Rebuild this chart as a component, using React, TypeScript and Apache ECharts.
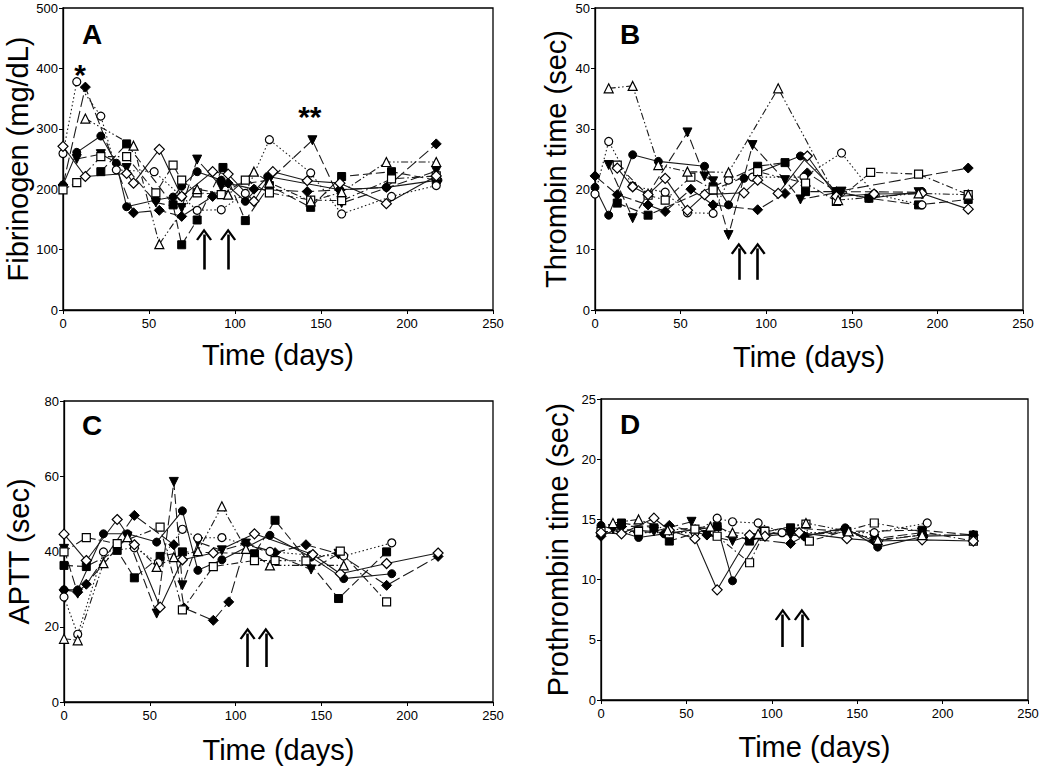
import React, { useEffect, useRef } from "react";
import * as echarts from "echarts";

// ---------- Panel A: Fibrinogen (mg/dL) ----------
const A_fCircle = [[0,207],[8,261],[22,288],[31,243],[37,171],[54,182],[64,187],[69,205],[78,229],[92,215],[106,180],[119,221],[161,199],[188,203],[218,215]];
const A_fSquare = [[22,229],[37,275],[64,174],[69,108],[78,149],[93,236],[106,148],[120,206],[144,170],[162,221],[191,229],[217,215]];
const A_fDiamond = [[0,207],[13,369],[41,161],[56,165],[69,155],[87,188],[96,210],[111,200],[142,196],[161,199],[188,203],[217,275]];
const A_fTri = [[8,250],[22,258],[37,235],[54,178],[69,169],[78,249],[92,204],[120,215],[145,281],[162,177],[217,230]];
const A_oCircle = [[0,259],[8,378],[22,321],[31,232],[53,229],[69,188],[78,165],[92,166],[106,193],[120,282],[144,227],[162,159],[191,188],[217,206]];
const A_oSquare = [[0,199],[8,211],[22,254],[37,254],[54,194],[64,240],[69,215],[78,194],[92,191],[106,215],[120,194],[144,182],[162,181],[191,217],[217,222]];
const A_oDiamond = [[0,271],[13,221],[37,226],[41,210],[56,266],[69,188],[87,229],[96,225],[111,180],[122,229],[142,214],[161,210],[188,176],[217,222]];
const A_oTri = [[13,317],[41,272],[56,109],[78,200],[96,191],[111,229],[120,211],[144,180],[162,195],[188,245],[217,245]];

// ---------- Panel B: Thrombin time (sec) ----------
const B_fCircle = [[0,20.3],[8,15.7],[22,25.7],[37,24.6],[64,23.8],[78,17.4],[87,21.8],[120,25.5],[141,19.6],[160,18.5],[191,19.6]];
const B_fSquare = [[13,17.7],[31,15.7],[69,20.4],[95,23.8],[111,24.4],[123,19.6],[141,19.6],[160,18.5],[189,17.4],[218,18.3]];
const B_fDiamond = [[0,22.2],[13,19.1],[31,17.4],[41,16.3],[56,20.0],[69,17.4],[95,16.6],[111,19.3],[124,22.7],[141,19.6],[218,23.5]];
const B_fTri = [[8,24.0],[22,15.2],[54,29.4],[64,22.1],[69,21.3],[78,12.4],[92,27.3],[111,21.5],[120,18.3],[144,19.6],[189,19.5]];
const B_oCircle = [[0,19.2],[8,27.9],[22,20.5],[41,19.5],[54,16.1],[69,16.0],[78,21.5],[92,22.0],[122,22.0],[144,26.0],[163,19.2],[191,17.4]];
const B_oSquare = [[13,24.0],[31,19.0],[41,18.2],[56,22.0],[69,19.9],[95,22.9],[123,21.0],[141,18.0],[161,22.8],[189,22.5],[218,19.1]];
const B_oDiamond = [[13,23.5],[22,20.4],[31,19.1],[41,21.8],[54,16.5],[64,19.1],[87,19.4],[95,21.5],[107,19.3],[124,25.5],[141,18.8],[163,19.2],[191,19.3],[218,16.7]];
const B_oTri = [[8,36.7],[22,37.1],[37,24.0],[54,22.9],[78,22.8],[107,36.7],[142,18.2],[189,19.3],[218,19.1]];

// ---------- Panel C: APTT (sec) ----------
const C_fCircle = [[0,29.8],[8,29.8],[23,44.7],[37,44.7],[54,42.5],[69,50.8],[78,35.0],[92,37.8],[120,44.3],[144,38.5],[163,32.8],[191,34.1]];
const C_fSquare = [[0,36.3],[13,36.0],[31,40.3],[41,33.0],[56,38.7],[69,39.9],[111,39.4],[123,48.3],[160,27.5],[188,39.9]];
const C_fDiamond = [[0,29.8],[8,29.2],[13,31.3],[41,49.6],[64,41.8],[70,25.0],[87,21.7],[96,26.6],[106,42.1],[123,39.7],[141,41.8],[160,39.4],[188,31.0],[218,38.7]];
const C_fTri = [[0,40.7],[8,28.8],[37,44.0],[54,23.5],[64,58.5],[69,31.0],[78,42.5],[92,40.3],[106,42.1],[144,35.2],[160,39.4]];
const C_oCircle = [[0,27.9],[8,18.0],[23,39.9],[41,41.0],[55,37.0],[69,45.9],[78,43.6],[92,43.7],[120,40.0],[144,39.0],[163,38.8],[191,42.3]];
const C_oSquare = [[0,39.9],[13,43.7],[31,42.1],[56,46.5],[69,24.5],[87,36.0],[111,37.6],[123,37.6],[141,37.5],[161,40.1],[188,26.6]];
const C_oDiamond = [[0,44.6],[13,37.6],[31,48.5],[41,41.8],[56,25.2],[69,37.8],[87,39.6],[111,44.7],[145,39.2],[161,34.1],[188,36.8],[218,39.6]];
const C_oTri = [[0,16.8],[8,16.4],[23,36.9],[37,43.8],[54,35.9],[64,38.5],[78,40.1],[92,52.0],[106,40.7],[120,36.3],[163,36.3]];

// ---------- Panel D: Prothrombin time (sec) ----------
const D_fCircle = [[0,14.5],[22,13.5],[37,13.8],[68,14.4],[77,9.9],[95,13.9],[119,13.6],[143,14.3],[162,12.7],[189,13.6],[218,13.7]];
const D_fSquare = [[12,14.7],[31,14.3],[40,13.2],[68,14.4],[87,13.2],[111,14.3],[144,14.0],[188,14.1],[218,13.7]];
const D_fDiamond = [[0,13.6],[12,14.4],[40,14.5],[62,13.7],[87,13.4],[111,13.0],[119,13.6],[143,14.2],[160,13.2],[188,13.7],[218,13.7]];
const D_fTri = [[7,14.2],[31,14.0],[53,14.8],[62,13.7],[77,13.2],[95,14.0],[111,13.7],[143,13.9],[160,13.4],[188,13.9]];
const D_oCircle = [[0,13.9],[55,13.9],[68,15.1],[77,14.8],[92,14.7],[106,13.9],[160,13.9],[191,14.7]];
const D_oSquare = [[0,14.0],[22,14.0],[40,13.8],[55,14.2],[68,13.6],[87,11.4],[96,14.0],[120,14.6],[122,13.2],[160,14.7],[218,13.2]];
const D_oDiamond = [[0,13.9],[12,13.8],[31,15.1],[40,14.1],[55,13.4],[68,9.15],[87,13.7],[96,13.6],[116,13.9],[144,13.4],[162,13.2],[188,13.3],[218,13.2]];
const D_oTri = [[7,14.7],[22,15.0],[39,14.1],[64,14.4],[77,13.9],[92,13.8],[120,14.7],[145,14.0],[162,13.3],[188,13.7]];

// ---------- Annotations: arrows [day, from, to] ----------
const arrowsA = [[82, 67, 125], [96, 67, 125]];
const arrowsB = [[84, 5, 10.2], [95, 5, 10.2]];
const arrowsC = [[107, 9.3, 18.2], [117.6, 9.3, 18.2]];
const arrowsD = [[106.4, 4.4, 7.1], [117.6, 4.4, 7.1]];
const starsA = [[10, 390, "*"], [143.5, 321, "**"]];

const xTicks = { min: 0, max: 250, interval: 50 };
const yTitles = ["Fibrinogen (mg/dL)", "Thrombin time (sec)", "APTT (sec)", "Prothrombin time (sec)"];
const yMax = [500, 50, 80, 25];
const yInterval = [100, 10, 20, 5];
const panelLetters = ["A", "B", "C", "D"];

const FONT = "'Liberation Sans', Arial, Helvetica, sans-serif";

const styles = [
  { name: "filled circle", symbol: "circle", filled: true, dash: "solid", size: 8, rot: 0 },
  { name: "filled square", symbol: "rect", filled: true, dash: [9, 4], size: 8, rot: 0 },
  { name: "filled diamond", symbol: "diamond", filled: true, dash: [12, 4], size: 10, rot: 0 },
  { name: "filled triangle", symbol: "triangle", filled: true, dash: [10, 4], size: 9, rot: 180 },
  { name: "open circle", symbol: "circle", filled: false, dash: [1.5, 2.5], size: 8, rot: 0 },
  { name: "open square", symbol: "rect", filled: false, dash: [7, 3, 1.5, 3], size: 8, rot: 0 },
  { name: "open diamond", symbol: "diamond", filled: false, dash: "solid", size: 10, rot: 0 },
  { name: "open triangle", symbol: "triangle", filled: false, dash: [7, 2.5, 1.5, 2.5, 1.5, 2.5], size: 9, rot: 0 },
];

const panelData = [
  [A_fCircle, A_fSquare, A_fDiamond, A_fTri, A_oCircle, A_oSquare, A_oDiamond, A_oTri],
  [B_fCircle, B_fSquare, B_fDiamond, B_fTri, B_oCircle, B_oSquare, B_oDiamond, B_oTri],
  [C_fCircle, C_fSquare, C_fDiamond, C_fTri, C_oCircle, C_oSquare, C_oDiamond, C_oTri],
  [D_fCircle, D_fSquare, D_fDiamond, D_fTri, D_oCircle, D_oSquare, D_oDiamond, D_oTri],
];
const panelArrows = [arrowsA, arrowsB, arrowsC, arrowsD];

const grids = [
  { left: 63, top: 8, width: 430, height: 302 },
  { left: 595, top: 8, width: 428, height: 302 },
  { left: 64, top: 401, width: 429, height: 301 },
  { left: 601, top: 399, width: 427, height: 301 },
];
const yNameGap = [31, 25, 31, 29];
const xNameGap = [30, 32, 33, 32];
const letterPos = [[82, 20], [620, 20], [82, 411], [620, 410]];

const ARROW = "path://M0,10 L8,0 L16,10 L14,11 L8,3.5 L2,11 Z";

export default function App() {
  const ref = useRef<HTMLDivElement>(null);
  useEffect(() => {
    if (!ref.current) return;
    const chart = echarts.init(ref.current, null, { renderer: "svg" });
    const series: any[] = [];
    panelData.forEach((panel, p) => {
      panel.forEach((data, s) => {
        const st = styles[s];
        const ser: any = {
          type: "line",
          name: st.name,
          xAxisIndex: p,
          yAxisIndex: p,
          data,
          symbol: st.symbol,
          symbolSize: st.size,
          symbolRotate: st.rot,
          showAllSymbol: true,
          lineStyle: { color: "#1a1a1a", width: 1.1, type: st.dash },
          itemStyle: st.filled
            ? { color: "#000", borderColor: "#000", borderWidth: 1 }
            : { color: "#fff", borderColor: "#000", borderWidth: 1.2 },
          z: 3,
          silent: true,
        };
        if (s === 0) {
          ser.markLine = {
            silent: true,
            symbol: ["none", ARROW],
            symbolSize: [16, 12],
            lineStyle: { color: "#000", width: 2.6, type: "solid" },
            label: { show: false },
            data: panelArrows[p].map((a) => [
              { coord: [a[0], a[1]] },
              { coord: [a[0], a[2]] },
            ]),
          };
          if (p === 0) {
            ser.markPoint = {
              silent: true,
              symbol: "circle",
              symbolSize: 1,
              itemStyle: { color: "rgba(0,0,0,0)" },
              label: {
                show: true,
                position: "inside",
                fontSize: 30,
                fontWeight: "bold",
                fontFamily: FONT,
                color: "#000",
                formatter: (d: any) => d.name,
              },
              data: starsA.map((s2) => ({ coord: [s2[0], s2[1]], name: s2[2] })),
            };
          }
        }
        series.push(ser);
      });
    });

    const option: any = {
      animation: false,
      backgroundColor: "#fff",
      grid: grids.map((g) => ({ ...g, show: true, borderColor: "#000", borderWidth: 1.3, containLabel: false })),
      xAxis: grids.map((_, p) => ({
        type: "value",
        gridIndex: p,
        ...xTicks,
        name: "Time (days)",
        nameLocation: "middle",
        nameGap: xNameGap[p],
        nameTextStyle: { fontSize: 29, fontFamily: FONT, color: "#000" },
        axisLine: { show: true, lineStyle: { color: "#000", width: 1.3 } },
        axisTick: { show: true, length: 4, lineStyle: { color: "#000" } },
        axisLabel: { fontSize: 13, fontFamily: FONT, color: "#000", margin: 7 },
        splitLine: { show: false },
      })),
      yAxis: grids.map((_, p) => ({
        type: "value",
        gridIndex: p,
        min: 0,
        max: yMax[p],
        interval: yInterval[p],
        name: yTitles[p],
        nameLocation: "middle",
        nameGap: yNameGap[p],
        nameTextStyle: { fontSize: 29, fontFamily: FONT, color: "#000" },
        axisLine: { show: true, lineStyle: { color: "#000", width: 1.3 } },
        axisTick: { show: true, length: 4, lineStyle: { color: "#000" } },
        axisLabel: { fontSize: 13, fontFamily: FONT, color: "#000", margin: 5 },
        splitLine: { show: false },
      })),
      graphic: panelLetters.map((t, i) => ({
        type: "text",
        left: letterPos[i][0],
        top: letterPos[i][1],
        style: { text: t, fontSize: 28, fontWeight: "bold", fontFamily: FONT, fill: "#000" },
        z: 10,
      })),
      series,
    };
    chart.setOption(option);
    return () => chart.dispose();
  }, []);
  return (
    <div
      ref={ref}
      style={{ position: "fixed", left: 0, top: 0, width: 1050, height: 773, background: "#fff" }}
    />
  );
}
